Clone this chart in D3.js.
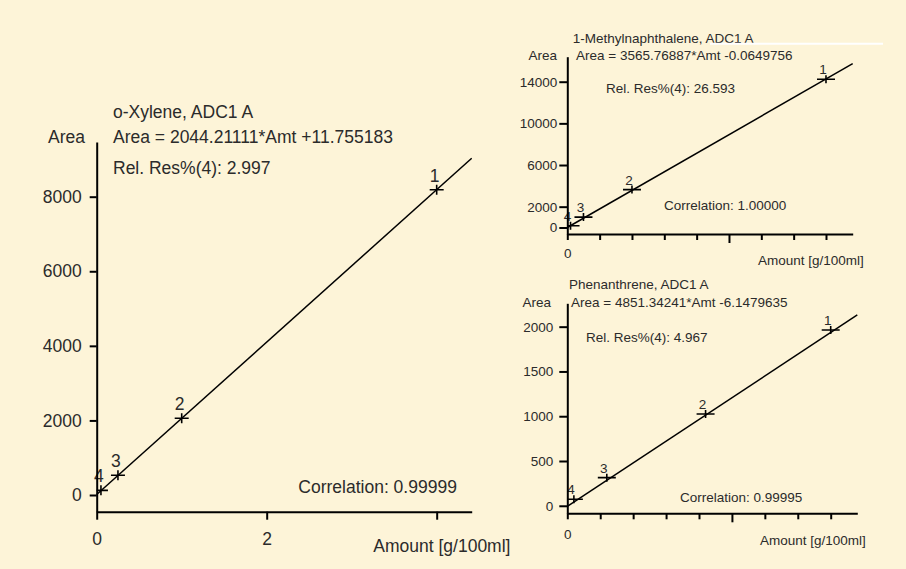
<!DOCTYPE html>
<html>
<head>
<meta charset="utf-8">
<script src="https://cdn.jsdelivr.net/npm/d3@7/dist/d3.min.js"></script>
<style>
  body { margin: 0; background: #fdf4d8; }
  text { font-family: "Liberation Sans", Arial, sans-serif; fill: #2b2b2b; }
</style>
</head>
<body>
<div id="chart"></div>
<script>
// o-Xylene
var xyleneAmt = [4, 1, 0.25, 0.05]
var xyleneArea = [8188, 2057, 530, 125]
var xyleneFit = [2044.21111, 11.755183]
var xyleneXTicks = [0, 2, 4]
var xyleneXLabels = [0, 2]
var xyleneYTicks = [0, 2000, 4000, 6000, 8000]

// 1-Methylnaphthalene
var mnAmt = [4, 1, 0.25, 0.05]
var mnArea = [14231, 3640, 1000, 175]
var mnFit = [3565.76887, -0.0649756]
var mnXTicks = [0, 0.5, 1, 1.5, 2, 2.5, 3, 3.5, 4]
var mnXMajor = [2.5]
var mnXLabels = [0]
var mnYTicks = [0, 2000, 6000, 10000, 14000]

// Phenanthrene
var phAmt = [0.4, 0.21, 0.06, 0.01]
var phArea = [1963, 1025, 314, 73]
var phFit = [4851.34241, -6.1479635]
var phXTicks = [0, 0.05, 0.1, 0.15, 0.2, 0.25, 0.3, 0.35, 0.4]
var phXMajor = [0.25]
var phXLabels = [0]
var phYTicks = [0, 500, 1000, 1500, 2000]

var pointLabels = ["1", "2", "3", "4"]

var width = 906
var height = 569

var svg = d3.select("#chart")
    .append("svg")
    .attr("width", width)
    .attr("height", height)

svg.append("rect")
    .attr("width", width)
    .attr("height", height)
    .attr("fill", "#fdf4d8")

var panels = [
    {
        id: "xy", amt: xyleneAmt, area: xyleneArea, fit: xyleneFit,
        xTicks: xyleneXTicks, xMajor: [], xLabels: xyleneXLabels, yTicks: xyleneYTicks,
        left: 96.7, right: 471.7, top: 142, bottom: 511.7,
        xDomain: [0, 4.412], yDomain: [-448, 9467],
        font: 17.5, yTickSize: 7, yPad: 8, xTickSize: 8, xMajorSize: 8, xPad: 13,
        crossW: 7, crossH: 5, labDx: -2, labDy: -8,
        texts: [
            { t: "o-Xylene, ADC1 A", x: 113, y: 117.5 },
            { t: "Area = 2044.21111*Amt +11.755183", x: 113, y: 143.3 },
            { t: "Area", x: 85, y: 143.3, anchor: "end" },
            { t: "Rel. Res%(4): 2.997", x: 113, y: 174 },
            { t: "Correlation: 0.99999", x: 298.3, y: 493.3 },
            { t: "Amount [g/100ml]", x: 373.3, y: 551.7 }
        ]
    },
    {
        id: "mn", amt: mnAmt, area: mnArea, fit: mnFit,
        xTicks: mnXTicks, xMajor: mnXMajor, xLabels: mnXLabels, yTicks: mnYTicks,
        left: 567.3, right: 852.7, top: 56.7, bottom: 234,
        xDomain: [0, 4.413], yDomain: [-624, 16401],
        font: 13.5, yTickSize: 8, yPad: 2, xTickSize: 6, xMajorSize: 9, xPad: 8.5,
        crossW: 9, crossH: 4, labDx: -3, labDy: -5,
        texts: [
            { t: "1-Methylnaphthalene, ADC1 A", x: 572.7, y: 42.7 },
            { t: "Area = 3565.76887*Amt -0.0649756", x: 576, y: 59.5 },
            { t: "Area", x: 557, y: 59.5, anchor: "end" },
            { t: "Rel. Res%(4): 26.593", x: 606, y: 93.3 },
            { t: "Correlation: 1.00000", x: 664, y: 210 },
            { t: "Amount [g/100ml]", x: 758, y: 265 }
        ]
    },
    {
        id: "ph", amt: phAmt, area: phArea, fit: phFit,
        xTicks: phXTicks, xMajor: phXMajor, xLabels: phXLabels, yTicks: phYTicks,
        left: 567.3, right: 857.3, top: 303.3, bottom: 513.3,
        xDomain: [0, 0.4404], yDomain: [-84, 2261],
        font: 13.5, yTickSize: 8, yPad: 6, xTickSize: 6, xMajorSize: 9, xPad: 10.5,
        crossW: 9, crossH: 4, labDx: -3, labDy: -5,
        texts: [
            { t: "Phenanthrene, ADC1 A", x: 569, y: 289 },
            { t: "Area = 4851.34241*Amt -6.1479635", x: 571, y: 307.3 },
            { t: "Area", x: 551, y: 307.3, anchor: "end" },
            { t: "Rel. Res%(4): 4.967", x: 586, y: 341.7 },
            { t: "Correlation: 0.99995", x: 680, y: 501.7 },
            { t: "Amount [g/100ml]", x: 760, y: 545 }
        ]
    }
]

function drawPanel(p) {
    var g = svg.append("g")

    var x = d3.scaleLinear().domain(p.xDomain).range([p.left, p.right])
    var y = d3.scaleLinear().domain(p.yDomain).range([p.bottom, p.top])

    g.append("clipPath")
        .attr("id", "clip-" + p.id)
        .append("rect")
        .attr("x", p.left)
        .attr("y", p.top)
        .attr("width", p.right - p.left)
        .attr("height", p.bottom - p.top)

    // fit line over the whole x range
    var fitLine = d3.line()
        .x(d => x(d))
        .y(d => y(p.fit[0] * d + p.fit[1]))

    g.append("path")
        .datum(p.xDomain)
        .attr("d", fitLine)
        .attr("fill", "none")
        .attr("stroke", "#000")
        .attr("stroke-width", 1.5)

    var pts = p.amt.map((a, i) => ({ amt: a, area: p.area[i], label: pointLabels[i] }))

    g.append("g")
        .attr("clip-path", `url(#clip-${p.id})`)
        .selectAll("path")
        .data(pts)
        .enter()
        .append("path")
        .attr("transform", d => `translate(${x(d.amt)},${y(d.area)})`)
        .attr("d", `M${-p.crossW},0H${p.crossW}M0,${-p.crossH}V${p.crossH}`)
        .attr("stroke", "#000")
        .attr("stroke-width", 1.6)

    g.selectAll(".plab")
        .data(pts)
        .enter()
        .append("text")
        .attr("class", "plab")
        .attr("x", d => x(d.amt) + p.labDx)
        .attr("y", d => y(d.area) + p.labDy)
        .attr("text-anchor", "middle")
        .style("font-size", p.font + "px")
        .text(d => d.label)

    // axes
    var ya = g.append("g")
        .attr("transform", `translate(${p.left},0)`)
        .call(d3.axisLeft(y)
            .tickValues(p.yTicks)
            .tickSize(p.yTickSize)
            .tickSizeOuter(0)
            .tickPadding(p.yPad)
            .tickFormat(d3.format("d")))

    var xa = g.append("g")
        .attr("transform", `translate(0,${p.bottom})`)
        .call(d3.axisBottom(x)
            .tickValues(p.xTicks)
            .tickSize(p.xTickSize)
            .tickSizeOuter(0)
            .tickPadding(p.xPad)
            .tickFormat(d => p.xLabels.indexOf(d) >= 0 ? d3.format("d")(d) : ""))

    xa.selectAll(".tick line")
        .attr("y2", d => p.xMajor.indexOf(d) >= 0 ? p.xMajorSize : p.xTickSize)

    ;[ya, xa].forEach(a => {
        a.attr("font-size", null).attr("font-family", null)
        a.selectAll("path, line").attr("stroke", "#000").attr("stroke-width", 2)
        a.selectAll("text").attr("fill", "#2b2b2b").style("font-size", p.font + "px")
    })

    g.selectAll(".ptxt")
        .data(p.texts)
        .enter()
        .append("text")
        .attr("class", "ptxt")
        .attr("x", d => d.x)
        .attr("y", d => d.y)
        .attr("text-anchor", d => d.anchor || "start")
        .style("font-size", p.font + "px")
        .text(d => d.t)
}

panels.forEach(drawPanel)

// thin white stroke across the top-right title
svg.append("line")
    .attr("x1", 710).attr("x2", 883)
    .attr("y1", 43.7).attr("y2", 43.7)
    .attr("stroke", "#fff")
    .attr("stroke-width", 2)
</script>
</body>
</html>
